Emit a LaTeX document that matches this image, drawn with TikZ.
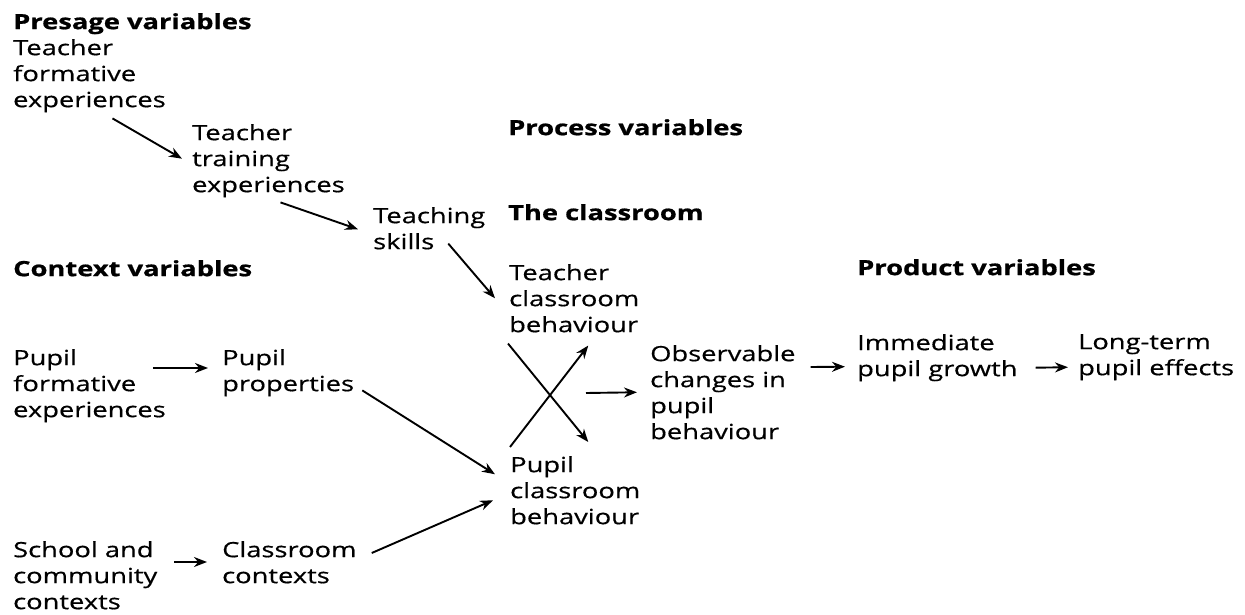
\documentclass[tikz,border=0pt]{standalone}
\usepackage{fontspec}
\setmainfont{Open Sans}[FakeStretch=1.3, UprightFeatures={FakeBold=0.5}, BoldFeatures={FakeBold=0.8}]
\usetikzlibrary{arrows.meta}
\tikzset{
    txt/.style={anchor=north west, inner sep=0pt, align=left, font=\fontsize{21}{26}\selectfont},
    hdr/.style={txt, font=\fontsize{21}{26}\selectfont\bfseries},
    arr/.style={-{Stealth[length=13pt,width=10pt]}, line width=1.9pt},
}
\begin{document}
\begin{tikzpicture}[x=1pt,y=-1pt]
    \useasboundingbox (0,0) rectangle (1245,615);
    %Presage
    \node[hdr] (presage)  at (13,13)   {Presage variables};
    \node[txt] (tfe)      at (13,39)   {Teacher\\formative\\experiences};
    \node[txt] (tte)      at (192,124) {Teacher\\training\\experiences};
    \node[txt] (skills)   at (373,207) {Teaching\\skills};
    %Process
    \node[hdr] (process)  at (508,119) {Process variables};
    \node[hdr] (room)     at (508,204) {The classroom};
    \node[txt] (tcb)      at (509,264) {Teacher\\classroom\\behaviour};
    \node[txt] (pcb)      at (510,456) {Pupil\\classroom\\behaviour};
    \node[txt] (obs)      at (650,345) {Observable\\changes in\\pupil\\behaviour};
    \coordinate (mid) at (586,393);
    %Context
    \node[hdr] (context)  at (13,260)  {Context variables};
    \node[txt] (pfe)      at (13,349)  {Pupil\\formative\\experiences};
    \node[txt] (pprop)    at (222,349) {Pupil\\properties};
    \node[txt] (school)   at (13,541)  {School and\\community\\contexts};
    \node[txt] (ccon)     at (222,541) {Classroom\\contexts};
    %Product
    \node[hdr] (product)  at (857,259) {Product variables};
    \node[txt] (growth)   at (857,334) {Immediate\\pupil growth};
    \node[txt] (longterm) at (1078,334) {Long-term\\pupil effects};
    %Arrows
    \draw[arr] ([shift={(23,6)}]tfe.south) -- ([shift={(-10,-2)}]tte.west);
    \draw[arr] ([shift={(12,5)}]tte.south) -- ([shift={(-15,1)}]skills.west);
    \draw[arr] ([shift={(19,-6)}]skills.south) -- ([shift={(-14,0)}]tcb.west);
    \draw[arr] ([shift={(-1,11)}]tcb.south west) -- ([shift={(13,-14)}]pcb.north);
    \draw[arr] ([shift={(0,-9)}]pcb.north west) -- ([shift={(14,13)}]tcb.south);
    \draw[arr] (mid) -- ([shift={(-13,0)}]obs.west);
    \draw[arr] ([shift={(15,22)}]obs.north east) -- ([shift={(-12,9)}]growth.west);
    \draw[arr] ([shift={(18,10)}]growth.east) -- ([shift={(-10,10)}]longterm.west);
    \draw[arr] ([shift={(-13,19)}]pfe.north east) -- ([shift={(-14,19)}]pprop.north west);
    \draw[arr] ([shift={(17,21)}]school.north east) -- ([shift={(-15,21)}]ccon.north west);
    \draw[arr] ([shift={(8,-6)}]pprop.south east) -- ([shift={(-15,-16)}]pcb.west);
    \draw[arr] ([shift={(15,12)}]ccon.north east) -- ([shift={(-17,10)}]pcb.west);
\end{tikzpicture}
\end{document}
